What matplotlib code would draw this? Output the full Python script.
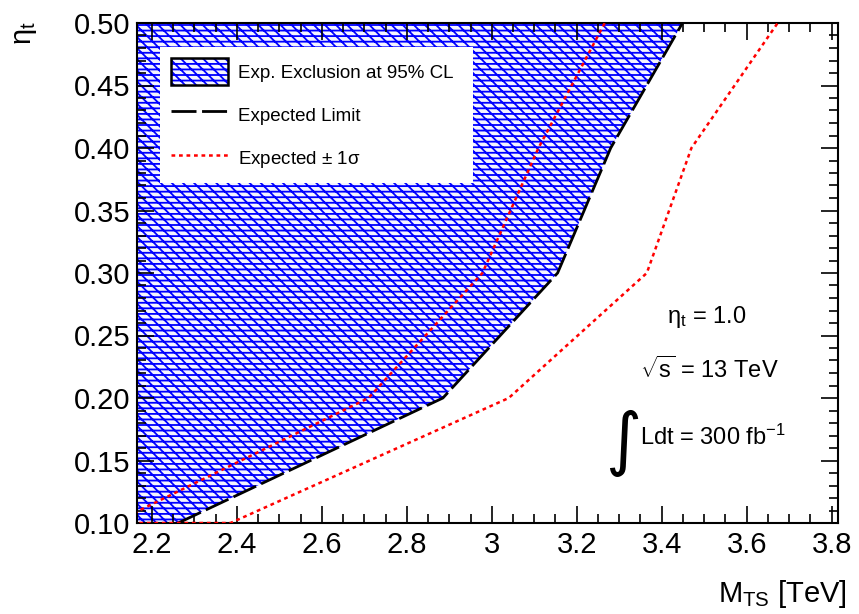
import matplotlib
matplotlib.use('Agg')
import matplotlib.pyplot as plt
from matplotlib.patches import Patch
from matplotlib.lines import Line2D
from matplotlib.legend_handler import HandlerTuple
from matplotlib.ticker import MultipleLocator

plt.rcParams['font.family'] = ['Liberation Sans', 'DejaVu Sans']
plt.rcParams['mathtext.fontset'] = 'custom'
plt.rcParams['mathtext.rm'] = 'Liberation Sans'
plt.rcParams['mathtext.it'] = 'Liberation Sans:italic'
plt.rcParams['mathtext.bf'] = 'Liberation Sans:bold'
plt.rcParams['hatch.linewidth'] = 1.3

# Expected limit (boundary of excluded region)
exp_mass = [2.262, 2.885, 3.155, 3.28, 3.449]
exp_eta = [0.10, 0.20, 0.30, 0.40, 0.50]
# Expected +1 sigma (inner red)
up_mass = [2.11, 2.71, 2.978, 3.11, 3.266]
up_eta = [0.10, 0.20, 0.30, 0.40, 0.50]
# Expected -1 sigma (outer red)
dn_mass = [2.10, 2.385, 3.04, 3.365, 3.47, 3.673]
dn_eta = [0.10, 0.10, 0.20, 0.30, 0.40, 0.50]

xticks = [2.2, 2.4, 2.6, 2.8, 3.0, 3.2, 3.4, 3.6, 3.8]
xticklabels = ["2.2", "2.4", "2.6", "2.8", "3", "3.2", "3.4", "3.6", "3.8"]
yticks = [0.10, 0.15, 0.20, 0.25, 0.30, 0.35, 0.40, 0.45, 0.50]
yticklabels = ["0.10", "0.15", "0.20", "0.25", "0.30", "0.35", "0.40", "0.45", "0.50"]

xlim = (2.165, 3.815)
ylim = (0.10, 0.50)

fig = plt.figure(figsize=(8.59, 6.14), dpi=100)
ax = fig.add_axes([137/859, 1 - 523/614, 701/859, 500/614])

hatch = '\\\\\\---'
ax.fill_betweenx(exp_eta, xlim[0], exp_mass, facecolor='#f4f4ff', edgecolor='blue',
                 hatch=hatch, linewidth=0, zorder=1)
ax.plot(exp_mass, exp_eta, color='black', lw=2.0, dashes=(9, 2), zorder=3)
ax.plot(up_mass, up_eta, color='red', lw=1.8, dashes=(1.5, 1.5), zorder=4)
ax.plot(dn_mass, dn_eta, color='red', lw=1.8, dashes=(1.5, 1.5), zorder=4, clip_on=True)

ax.set_xlim(*xlim)
ax.set_ylim(*ylim)
ax.set_xticks(xticks)
ax.set_xticklabels(xticklabels)
ax.set_yticks(yticks)
ax.set_yticklabels(yticklabels)
ax.xaxis.set_minor_locator(MultipleLocator(0.05))
ax.yaxis.set_minor_locator(MultipleLocator(0.01))
ax.tick_params(which='both', direction='in', top=True, right=True, width=1.2)
ax.tick_params(which='major', length=12, labelsize=21)
ax.tick_params(which='minor', length=6.5)
ax.tick_params(axis='x', pad=6)
ax.tick_params(axis='y', pad=5)
for s in ax.spines.values():
    s.set_linewidth(1.5)

# Legend
h_fill = Patch(facecolor='#f4f4ff', edgecolor='blue', hatch=hatch, linewidth=0)
h_box = Patch(fill=False, edgecolor='black', linewidth=1.8)
h_exp = Line2D([], [], color='black', lw=2.0, dashes=(9, 2))
h_sig = Line2D([], [], color='red', lw=1.8, dashes=(1.5, 1.5))
leg = ax.legend([(h_fill, h_box), h_exp, h_sig],
                ['Exp. Exclusion at 95% CL', 'Expected Limit', 'Expected $\\pm$ 1$\\mathrm{\\sigma}$'],
                handler_map={tuple: HandlerTuple(ndivide=1, pad=0)},
                loc='upper left', bbox_to_anchor=(0.033, 0.0, 0.447, 0.952), mode='expand',
                fontsize=13.5, frameon=True, fancybox=False, framealpha=1,
                borderpad=0.6, labelspacing=0.9, handlelength=3.0, handleheight=1.8,
                handletextpad=0.55, borderaxespad=0)
leg.get_frame().set_edgecolor('white')
leg.get_frame().set_linewidth(0)
leg.set_zorder(10)

# Annotations
ax.text(0.813, 0.412, 'η$_{\\mathrm{t}}$ = 1.0', transform=ax.transAxes, ha='center', va='center', fontsize=17)
ax.text(0.817, 0.306, '$\\sqrt{\\mathrm{s}}$ = 13 TeV', transform=ax.transAxes, ha='center', va='center', fontsize=17)
ax.text(0.822, 0.172, 'Ldt = 300 fb$^{-1}$', transform=ax.transAxes, ha='center', va='center', fontsize=17)
ax.text(0.693, 0.160, '∫', transform=ax.transAxes, ha='center', va='center', fontsize=50,
        family='DejaVu Sans')

# Axis labels
fig.text(847/859, 1 - 594/614, 'M$_{\\mathrm{TS}}$ [TeV]', ha='right', va='center', fontsize=21)
fig.text(25/859, 1 - 33/614, 'η$_{\\mathrm{t}}$', rotation=90, ha='center', va='center', fontsize=21)

fig.savefig('out.png', dpi=100)
